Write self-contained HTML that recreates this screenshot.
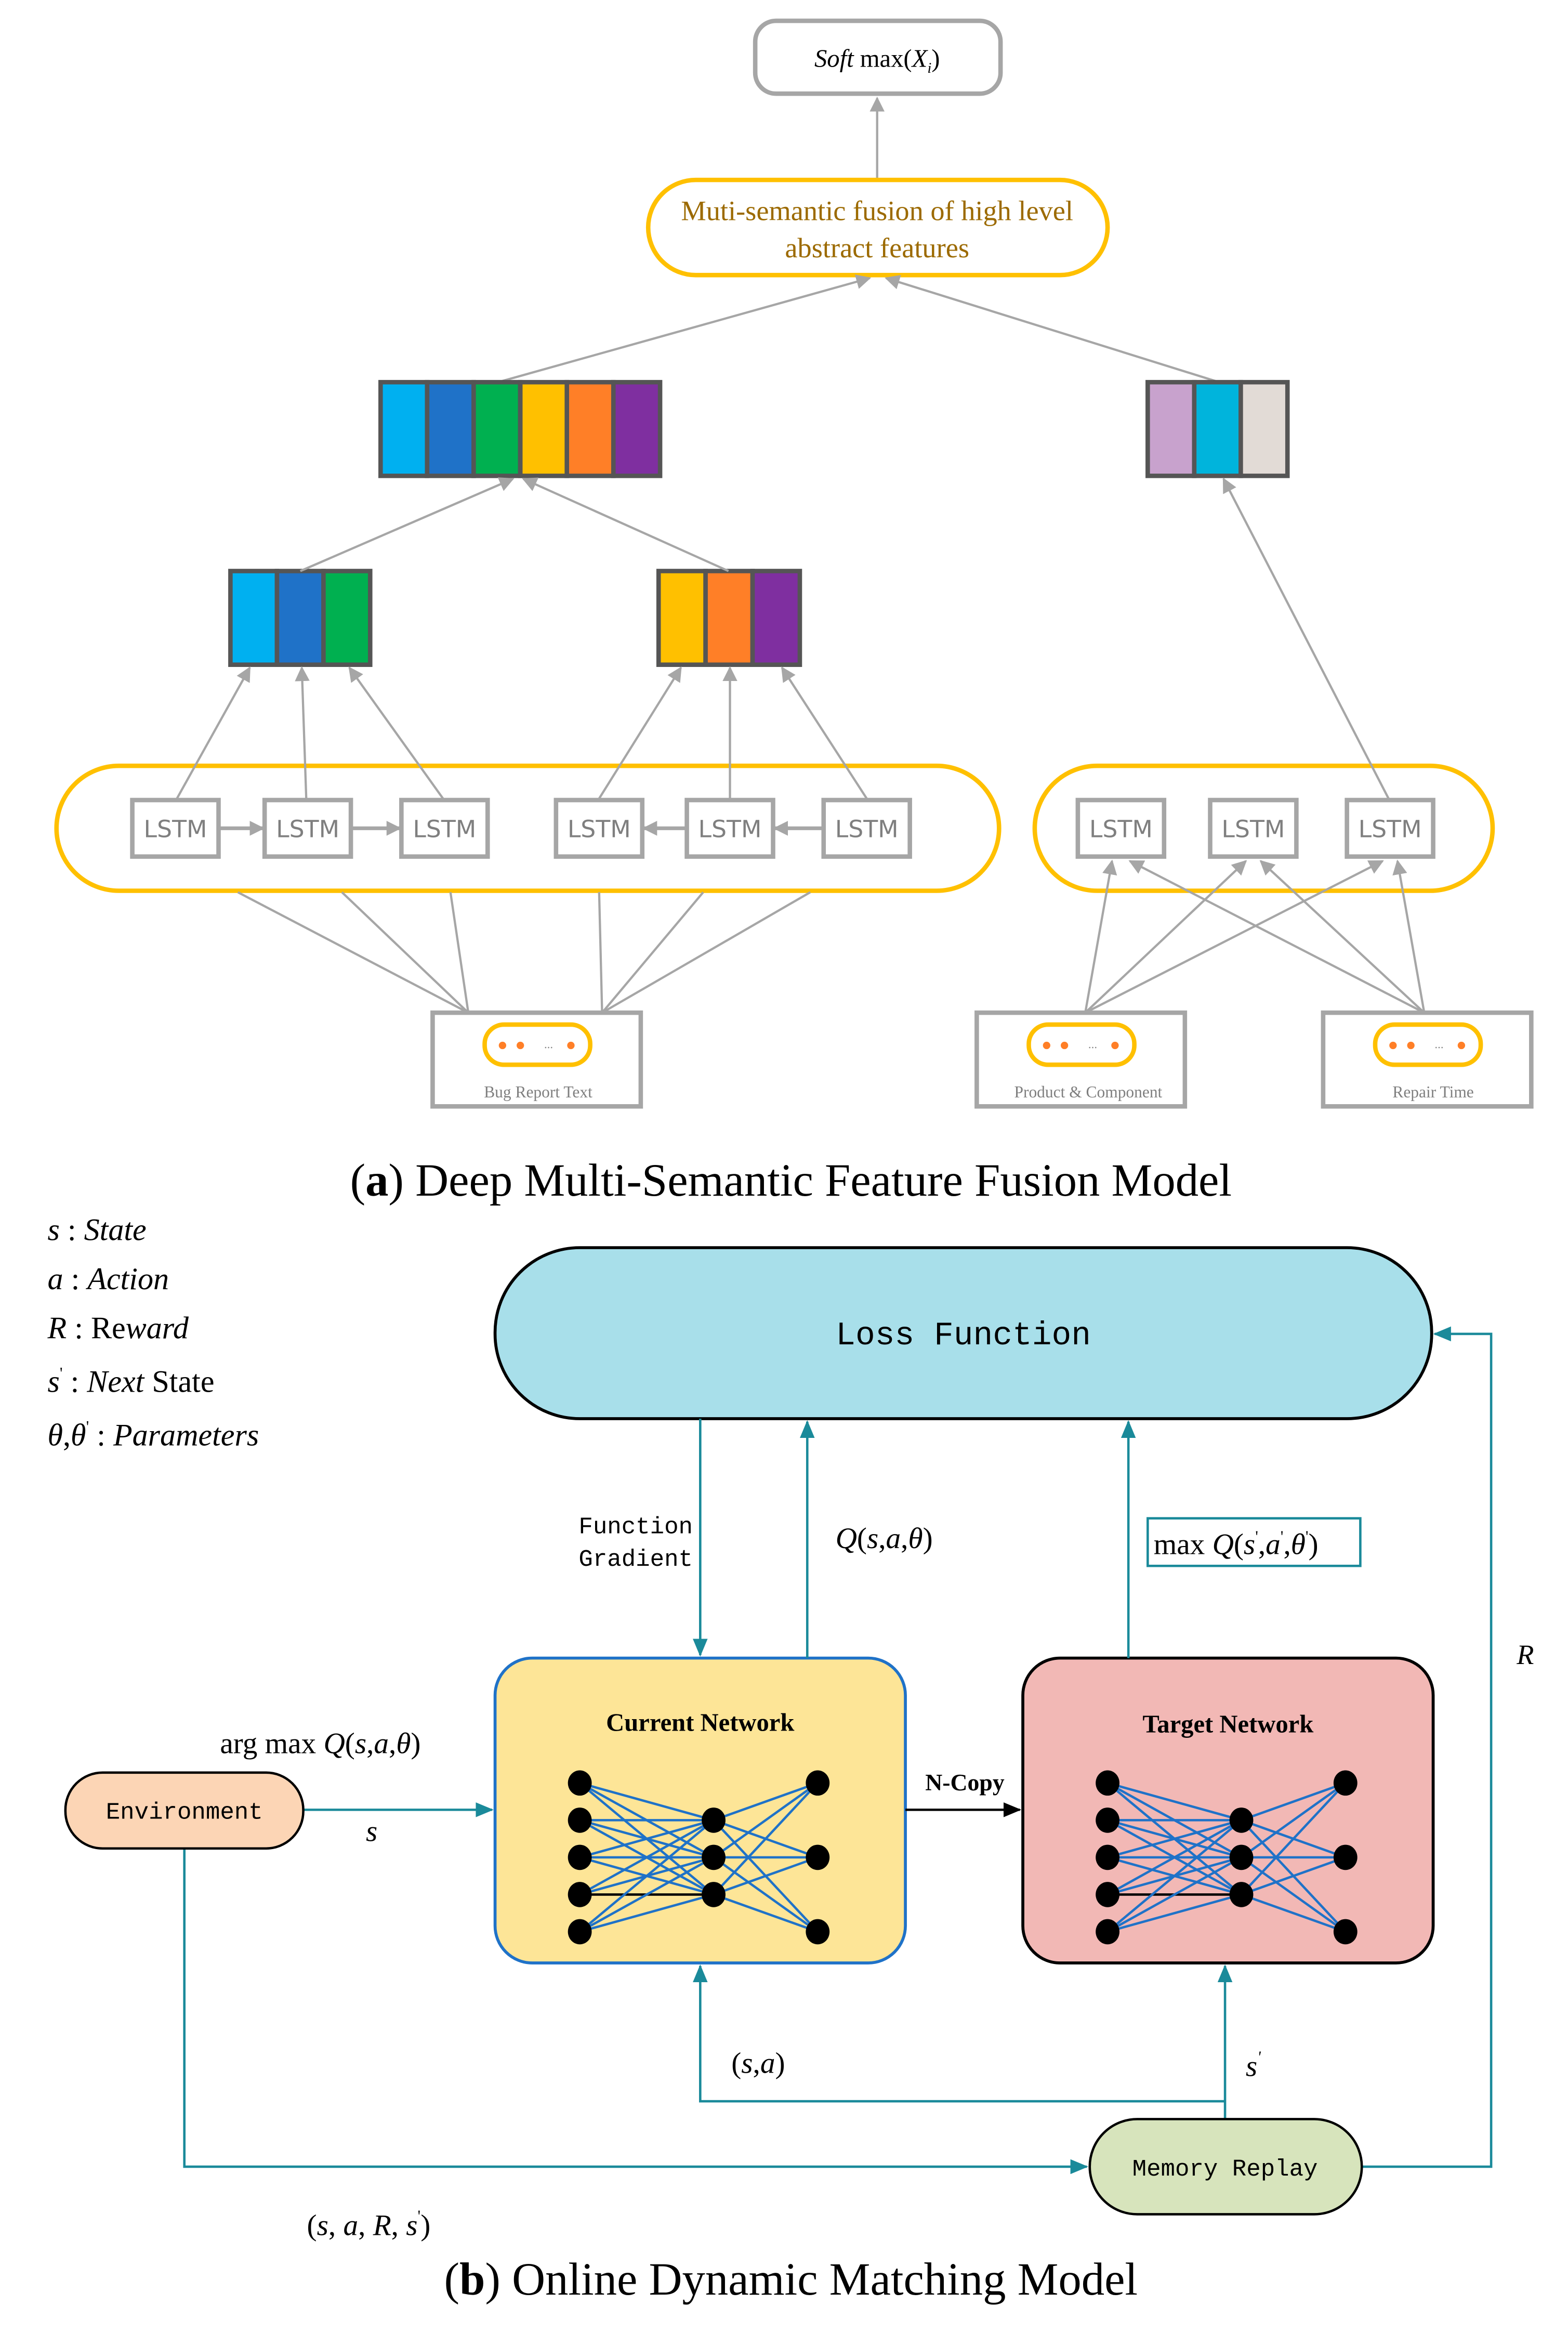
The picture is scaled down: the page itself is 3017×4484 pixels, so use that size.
<!DOCTYPE html>
<html><head><meta charset="utf-8"><style>html,body{margin:0;padding:0;background:#fff}svg{display:block}</style></head>
<body>
<svg width="3017" height="4484" viewBox="0 0 1054.7 1567.5" preserveAspectRatio="none" xmlns="http://www.w3.org/2000/svg">
<defs>
<marker id="ag" markerWidth="10" markerHeight="10" refX="9" refY="5" orient="auto" markerUnits="userSpaceOnUse"><path d="M0,0 L10,5 L0,10 z" fill="#a6a6a6"/></marker>
<marker id="at" markerWidth="12" markerHeight="10" refX="11" refY="5" orient="auto" markerUnits="userSpaceOnUse"><path d="M0,0 L12,5 L0,10 z" fill="#1a8a9a"/></marker>
<marker id="ak" markerWidth="12" markerHeight="10" refX="11" refY="5" orient="auto" markerUnits="userSpaceOnUse"><path d="M0,0 L12,5 L0,10 z" fill="#000"/></marker>
</defs>
<g font-family="Liberation Serif, serif">
<rect x="508" y="14" width="165" height="49" rx="14" fill="#fff" stroke="#a6a6a6" stroke-width="3"/>
<text x="590" y="45" font-size="17" text-anchor="middle"><tspan font-style="italic">Soft</tspan> max(<tspan font-style="italic">X<tspan font-size="10" dy="4">i</tspan></tspan><tspan dy="-4">)</tspan></text>
<line x1="590" y1="121" x2="590" y2="66" stroke="#a6a6a6" stroke-width="1.5" marker-end="url(#ag)"/>
<rect x="436" y="121" width="309" height="64" rx="32" fill="#fff" stroke="#ffc000" stroke-width="3"/>
<text x="590" y="148" font-size="19" fill="#9c6a00" text-anchor="middle">Muti-semantic fusion of high level</text>
<text x="590" y="173" font-size="19" fill="#9c6a00" text-anchor="middle">abstract features</text>
<line x1="335" y1="257" x2="585" y2="187" stroke="#a6a6a6" stroke-width="1.5" marker-end="url(#ag)"/>
<line x1="820" y1="257" x2="596" y2="187" stroke="#a6a6a6" stroke-width="1.5" marker-end="url(#ag)"/>
<g stroke="#555" stroke-width="3">
<rect x="256" y="257" width="31.3" height="63" fill="#00b0f0"/>
<rect x="287.3" y="257" width="31.3" height="63" fill="#1f72c8"/>
<rect x="318.6" y="257" width="31.3" height="63" fill="#00b050"/>
<rect x="350" y="257" width="31.3" height="63" fill="#ffc000"/>
<rect x="381.3" y="257" width="31.3" height="63" fill="#ff7f27"/>
<rect x="412.6" y="257" width="31.4" height="63" fill="#7f2fa0"/>
<rect x="772" y="257" width="31.3" height="63" fill="#c8a2cd"/>
<rect x="803.3" y="257" width="31.3" height="63" fill="#00b4dc"/>
<rect x="834.6" y="257" width="31.4" height="63" fill="#e2dbd6"/>
<rect x="155" y="384" width="31.3" height="63" fill="#00b0f0"/>
<rect x="186.3" y="384" width="31.3" height="63" fill="#1f72c8"/>
<rect x="217.6" y="384" width="31.4" height="63" fill="#00b050"/>
<rect x="443" y="384" width="31.6" height="63" fill="#ffc000"/>
<rect x="474.6" y="384" width="31.6" height="63" fill="#ff7f27"/>
<rect x="506.2" y="384" width="31.8" height="63" fill="#7f2fa0"/>
</g>
<line x1="202" y1="384" x2="345" y2="322" stroke="#a6a6a6" stroke-width="1.5" marker-end="url(#ag)"/>
<line x1="490" y1="384" x2="352" y2="322" stroke="#a6a6a6" stroke-width="1.5" marker-end="url(#ag)"/>
<rect x="38" y="515" width="634" height="84" rx="42" fill="none" stroke="#ffc000" stroke-width="3"/>
<rect x="696" y="515" width="308" height="84" rx="42" fill="none" stroke="#ffc000" stroke-width="3"/>
<g stroke="#a6a6a6" stroke-width="3" fill="#fff">
<rect x="89" y="538" width="58" height="38"/><rect x="178" y="538" width="58" height="38"/><rect x="270" y="538" width="58" height="38"/>
<rect x="374" y="538" width="58" height="38"/><rect x="462" y="538" width="58" height="38"/><rect x="554" y="538" width="58" height="38"/>
<rect x="725" y="538" width="58" height="38"/><rect x="814" y="538" width="58" height="38"/><rect x="906" y="538" width="58" height="38"/>
</g>
<g font-family="DejaVu Sans, sans-serif" font-size="16" fill="#7f7f7f" text-anchor="middle">
<text x="118" y="563">LSTM</text><text x="207" y="563">LSTM</text><text x="299" y="563">LSTM</text>
<text x="403" y="563">LSTM</text><text x="491" y="563">LSTM</text><text x="583" y="563">LSTM</text>
<text x="754" y="563">LSTM</text><text x="843" y="563">LSTM</text><text x="935" y="563">LSTM</text>
</g>
<g stroke="#a6a6a6" stroke-width="2.5" marker-end="url(#ag)">
<line x1="148" y1="557" x2="177" y2="557"/><line x1="237" y1="557" x2="269" y2="557"/>
<line x1="461" y1="557" x2="433" y2="557"/><line x1="553" y1="557" x2="521" y2="557"/>
</g>
<g stroke="#a6a6a6" stroke-width="1.5" marker-end="url(#ag)">
<line x1="119" y1="537" x2="168" y2="449"/><line x1="206" y1="537" x2="203" y2="449"/><line x1="298" y1="537" x2="235" y2="449"/>
<line x1="403" y1="537" x2="458" y2="449"/><line x1="491" y1="537" x2="491" y2="449"/><line x1="583" y1="537" x2="526" y2="449"/>
<line x1="934" y1="537" x2="823" y2="322"/>
<line x1="730" y1="681" x2="748" y2="579"/><line x1="730" y1="681" x2="838" y2="579"/><line x1="730" y1="681" x2="930" y2="579"/>
<line x1="958" y1="681" x2="760" y2="579"/><line x1="958" y1="681" x2="848" y2="579"/><line x1="958" y1="681" x2="940" y2="579"/>
</g>
<g stroke="#a6a6a6" stroke-width="1.5">
<line x1="315" y1="681" x2="160" y2="600"/><line x1="315" y1="681" x2="230" y2="600"/><line x1="315" y1="681" x2="303" y2="600"/>
<line x1="405" y1="681" x2="403" y2="600"/><line x1="405" y1="681" x2="473" y2="600"/><line x1="405" y1="681" x2="545" y2="600"/>
</g>
<g>
<rect x="291" y="681" width="140" height="63" fill="#fff" stroke="#a6a6a6" stroke-width="3"/>
<rect x="326" y="689" width="71" height="27" rx="13" fill="#fff" stroke="#ffc000" stroke-width="3"/>
<circle cx="338" cy="703" r="2.5" fill="#ff7f27"/><circle cx="350" cy="703" r="2.5" fill="#ff7f27"/><circle cx="384" cy="703" r="2.5" fill="#ff7f27"/>
<text x="369" y="705" font-size="8" fill="#888" text-anchor="middle">...</text>
<text x="362" y="738" font-size="11" fill="#7f7f7f" text-anchor="middle">Bug Report Text</text>
<rect x="657" y="681" width="140" height="63" fill="#fff" stroke="#a6a6a6" stroke-width="3"/>
<rect x="692" y="689" width="71" height="27" rx="13" fill="#fff" stroke="#ffc000" stroke-width="3"/>
<circle cx="704" cy="703" r="2.5" fill="#ff7f27"/><circle cx="716" cy="703" r="2.5" fill="#ff7f27"/><circle cx="750" cy="703" r="2.5" fill="#ff7f27"/>
<text x="735" y="705" font-size="8" fill="#888" text-anchor="middle">...</text>
<text x="732" y="738" font-size="11" fill="#7f7f7f" text-anchor="middle">Product &amp; Component</text>
<rect x="890" y="681" width="140" height="63" fill="#fff" stroke="#a6a6a6" stroke-width="3"/>
<rect x="925" y="689" width="71" height="27" rx="13" fill="#fff" stroke="#ffc000" stroke-width="3"/>
<circle cx="937" cy="703" r="2.5" fill="#ff7f27"/><circle cx="949" cy="703" r="2.5" fill="#ff7f27"/><circle cx="983" cy="703" r="2.5" fill="#ff7f27"/>
<text x="968" y="705" font-size="8" fill="#888" text-anchor="middle">...</text>
<text x="964" y="738" font-size="11" fill="#7f7f7f" text-anchor="middle">Repair Time</text>
</g>
<text x="532" y="804" font-size="31" text-anchor="middle">(<tspan font-weight="bold">a</tspan>) Deep Multi-Semantic Feature Fusion Model</text>

<g font-size="21">
<text x="32" y="834"><tspan font-style="italic">s</tspan> : <tspan font-style="italic">State</tspan></text>
<text x="32" y="867"><tspan font-style="italic">a</tspan> : <tspan font-style="italic">Action</tspan></text>
<text x="32" y="900"><tspan font-style="italic">R</tspan> : Re<tspan font-style="italic">ward</tspan></text>
<text x="32" y="936"><tspan font-style="italic">s</tspan><tspan font-size="11" dy="-9">'</tspan><tspan dy="9"> : </tspan><tspan font-style="italic">Next</tspan> State</text>
<text x="32" y="972"><tspan font-style="italic">θ</tspan>,<tspan font-style="italic">θ</tspan><tspan font-size="11" dy="-9">'</tspan><tspan dy="9">  : </tspan><tspan font-style="italic">Parameters</tspan></text>
</g>
<rect x="333" y="839" width="630" height="115" rx="57" fill="#a8dfea" stroke="#000" stroke-width="2"/>
<text x="648" y="904" font-family="Liberation Mono, monospace" font-size="22" text-anchor="middle">Loss Function</text>

<rect x="333" y="1115" width="276" height="205" rx="25" fill="#fde597" stroke="#1f72c8" stroke-width="2"/>
<rect x="688" y="1115" width="276" height="205" rx="25" fill="#f2b8b5" stroke="#000" stroke-width="2"/>
<text x="471" y="1164" font-size="17" font-weight="bold" text-anchor="middle">Current Network</text>
<text x="826" y="1165" font-size="17" font-weight="bold" text-anchor="middle">Target Network</text>

<g id="net" stroke="#1f72c8" stroke-width="1.6">
<line x1="390" y1="1199" x2="480" y2="1224"/><line x1="390" y1="1199" x2="480" y2="1249"/><line x1="390" y1="1199" x2="480" y2="1274"/>
<line x1="390" y1="1224" x2="480" y2="1224"/><line x1="390" y1="1224" x2="480" y2="1249"/><line x1="390" y1="1224" x2="480" y2="1274"/>
<line x1="390" y1="1249" x2="480" y2="1224"/><line x1="390" y1="1249" x2="480" y2="1249"/><line x1="390" y1="1249" x2="480" y2="1274"/>
<line x1="390" y1="1274" x2="480" y2="1224"/><line x1="390" y1="1274" x2="480" y2="1249"/><line x1="390" y1="1274" x2="480" y2="1274" stroke="#000"/>
<line x1="390" y1="1299" x2="480" y2="1224"/><line x1="390" y1="1299" x2="480" y2="1249"/><line x1="390" y1="1299" x2="480" y2="1274"/>
<line x1="480" y1="1224" x2="550" y2="1199"/><line x1="480" y1="1224" x2="550" y2="1249"/><line x1="480" y1="1224" x2="550" y2="1299"/>
<line x1="480" y1="1249" x2="550" y2="1199"/><line x1="480" y1="1249" x2="550" y2="1249"/><line x1="480" y1="1249" x2="550" y2="1299"/>
<line x1="480" y1="1274" x2="550" y2="1199"/><line x1="480" y1="1274" x2="550" y2="1249"/><line x1="480" y1="1274" x2="550" y2="1299"/>
<g fill="#000" stroke="none">
<ellipse cx="390" cy="1199" rx="8" ry="8.5"/><ellipse cx="390" cy="1224" rx="8" ry="8.5"/><ellipse cx="390" cy="1249" rx="8" ry="8.5"/><ellipse cx="390" cy="1274" rx="8" ry="8.5"/><ellipse cx="390" cy="1299" rx="8" ry="8.5"/>
<ellipse cx="480" cy="1224" rx="8" ry="8.5"/><ellipse cx="480" cy="1249" rx="8" ry="8.5"/><ellipse cx="480" cy="1274" rx="8" ry="8.5"/>
<ellipse cx="550" cy="1199" rx="8" ry="8.5"/><ellipse cx="550" cy="1249" rx="8" ry="8.5"/><ellipse cx="550" cy="1299" rx="8" ry="8.5"/>
</g>
</g>
<use href="#net" transform="translate(355,0)"/>

<g stroke="#1a8a9a" stroke-width="1.6" fill="none">
<line x1="471" y1="954" x2="471" y2="1113" marker-end="url(#at)"/>
<line x1="543" y1="1115" x2="543" y2="956" marker-end="url(#at)"/>
<line x1="759" y1="1115" x2="759" y2="956" marker-end="url(#at)"/>
<polyline points="916,1457 1003,1457 1003,897 965,897" marker-end="url(#at)"/>
<line x1="204" y1="1217" x2="331" y2="1217" marker-end="url(#at)"/>
<polyline points="124,1243 124,1457 731,1457" marker-end="url(#at)"/>
<line x1="824" y1="1425" x2="824" y2="1322" marker-end="url(#at)"/>
<polyline points="824,1413 471,1413 471,1322" marker-end="url(#at)"/>
<rect x="772" y="1021" width="143" height="32"/>
</g>
<line x1="609" y1="1217" x2="686" y2="1217" stroke="#000" stroke-width="1.6" marker-end="url(#ak)"/>
<text x="649" y="1204" font-size="16" font-weight="bold" text-anchor="middle">N-Copy</text>

<g font-family="Liberation Mono, monospace" font-size="16" text-anchor="end">
<text x="466" y="1031">Function</text>
<text x="466" y="1053">Gradient</text>
</g>
<text x="562" y="1041" font-size="20"><tspan font-style="italic">Q</tspan>(<tspan font-style="italic">s</tspan>,<tspan font-style="italic">a</tspan>,<tspan font-style="italic">θ</tspan>)</text>
<text x="776" y="1045" font-size="20">max <tspan font-style="italic">Q</tspan>(<tspan font-style="italic">s</tspan><tspan font-size="11" dy="-8">'</tspan><tspan dy="8">,</tspan><tspan font-style="italic">a</tspan><tspan font-size="11" dy="-8">'</tspan><tspan dy="8">,</tspan><tspan font-style="italic">θ</tspan><tspan font-size="11" dy="-8">'</tspan><tspan dy="8">)</tspan></text>
<text x="148" y="1179" font-size="20">arg max <tspan font-style="italic">Q</tspan>(<tspan font-style="italic">s</tspan>,<tspan font-style="italic">a</tspan>,<tspan font-style="italic">θ</tspan>)</text>
<text x="250" y="1238" font-size="20" font-style="italic" text-anchor="middle">s</text>
<text x="1026" y="1119" font-size="19" font-style="italic" text-anchor="middle">R</text>
<text x="510" y="1394" font-size="20" text-anchor="middle">(<tspan font-style="italic">s</tspan>,<tspan font-style="italic">a</tspan>)</text>
<text x="843" y="1396" font-size="20" font-style="italic" text-anchor="middle">s<tspan font-size="11" dy="-9">'</tspan></text>
<text x="248" y="1503" font-size="20" text-anchor="middle">(<tspan font-style="italic">s</tspan>, <tspan font-style="italic">a</tspan>, <tspan font-style="italic">R</tspan>, <tspan font-style="italic">s</tspan><tspan font-size="11" dy="-9">'</tspan><tspan dy="9">)</tspan></text>

<rect x="44" y="1192" width="160" height="51" rx="25" fill="#fcd5b5" stroke="#000" stroke-width="1.6"/>
<text x="124" y="1223" font-family="Liberation Mono, monospace" font-size="16" text-anchor="middle">Environment</text>
<rect x="733" y="1425" width="183" height="64" rx="32" fill="#d7e4bc" stroke="#000" stroke-width="1.6"/>
<text x="824" y="1463" font-family="Liberation Mono, monospace" font-size="16" text-anchor="middle">Memory Replay</text>

<text x="532" y="1543" font-size="31" text-anchor="middle">(<tspan font-weight="bold">b</tspan>) Online Dynamic Matching Model</text>
</g>
</svg>
</body></html>
